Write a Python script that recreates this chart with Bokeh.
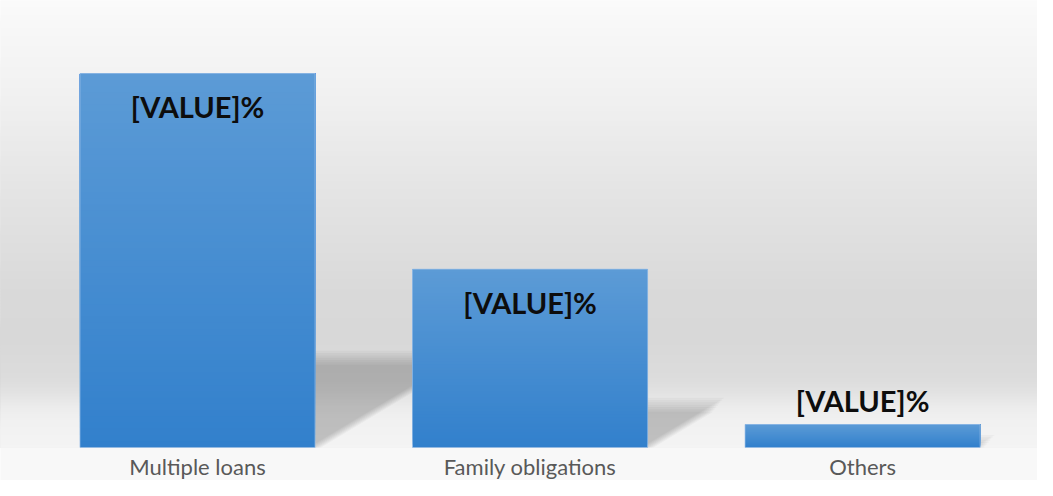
import numpy as np
from bokeh.plotting import figure
from bokeh.models import ColumnDataSource, Range1d
from bokeh.core.properties import value
from bokeh.embed import file_html
from bokeh.resources import INLINE

# ---------------- data ----------------
categories = ["Multiple loans", "Family obligations", "Others"]
values = [65, 31, 4]
value_labels = ["[VALUE]%", "[VALUE]%", "[VALUE]%"]

# ---------------- layout / style ----------------
W, H = 1037, 480
BASE_PX = 447                     # baseline position from top of the frame
X_START, X_END = -0.5925, 2.526
Y_END = 77.7
PX_PER_Y = BASE_PX / Y_END
Y_START = -(H - BASE_PX) / PX_PER_Y
BAR_W = 0.707
PX_PER_X = W / (X_END - X_START)

BAR_TOP = (92, 155, 214)
BAR_BOT = (50, 128, 204)


def hexc(c):
    return "#%02x%02x%02x" % tuple(int(round(v)) for v in c)


def lerp(c0, c1, t):
    return tuple(a + (b - a) * t for a, b in zip(c0, c1))


p = figure(width=W, height=H, output_backend="svg", toolbar_location=None,
           x_range=Range1d(X_START, X_END), y_range=Range1d(Y_START, Y_END),
           min_border=0)
p.background_fill_color = "#F8F8F8"
p.border_fill_color = "#F8F8F8"
p.outline_line_color = None
p.grid.visible = False
p.axis.visible = False

# ---------------- background gradient (overlapping bands, no seams) ----------------
stop_px = [0, 92, 192, 292, 342, 377, 392, 407, 422, 447]
stop_gray = [250, 241, 228, 217, 216, 220, 226, 236, 241, 244]
n_bg = 149
edges = np.linspace(0, BASE_PX, n_bg + 1)
bg_b, bg_t, bg_c = [], [], []
for i in range(n_bg):
    mid = (edges[i] + edges[i + 1]) / 2
    g = np.interp(mid, stop_px, stop_gray)
    bg_t.append(Y_END * (1 - edges[i] / BASE_PX))
    bg_b.append(0)
    bg_c.append(hexc((g, g, g)))
p.quad(left=X_START, right=X_END, bottom=bg_b, top=bg_t,
       fill_color=bg_c, line_color=None)

# ---------------- perspective shadows ----------------
SH_H = 0.24      # shadow depth relative to bar height
SH_SKEW = 0.40   # horizontal px shift per px of bar height
K = 7
for i, v in enumerate(values):
    h_px = v * PX_PER_Y
    dy = v * SH_H
    for k in range(K):
        t = (k / (K - 1)) - 0.5
        blur_y = (t * 14) / PX_PER_Y
        blur_x = (-t * 12) / PX_PER_X
        dx = h_px * SH_SKEW / PX_PER_X
        top = max(dy + blur_y, 0)
        xs = [i - BAR_W / 2, i + BAR_W / 2 + blur_x,
              i + BAR_W / 2 + dx * top / dy + blur_x, i - BAR_W / 2 + dx * top / dy]
        ys = [0, 0, top, top]
        p.patch(xs, ys, fill_color="black", fill_alpha=0.03, line_color=None)

# ---------------- gradient bars (overlapping bands, no seams) ----------------
N = 60
qb, qt, ql, qr, qc = [], [], [], [], []
for i, v in enumerate(values):
    for k in range(N):
        qb.append(v * k / N)
        qt.append(v)
        ql.append(i - BAR_W / 2)
        qr.append(i + BAR_W / 2)
        qc.append(hexc(lerp(BAR_BOT, BAR_TOP, (k + 0.5) / N)))
p.quad(left=ql, right=qr, bottom=qb, top=qt, fill_color=qc, line_color=None)
p.quad(left=[i - BAR_W / 2 for i in range(len(values))],
       right=[i + BAR_W / 2 for i in range(len(values))],
       bottom=0, top=values, fill_color=None, line_color="#9CC0E8",
       line_alpha=0.7, line_width=1)

# ---------------- value labels ----------------
offsets = [33 if v * PX_PER_Y > 80 else -24 for v in values]
lab_src = ColumnDataSource(dict(x=list(range(len(values))), y=values,
                                text=value_labels, yo=offsets))
p.text(x="x", y="y", text="text", y_offset="yo", source=lab_src,
       text_font=value("Lato"), text_font_style="bold", text_font_size="29px",
       text_color="#0D0D0D", text_align="center", text_baseline="middle")

# ---------------- category labels (under the baseline) ----------------
cat_src = ColumnDataSource(dict(x=list(range(len(categories))),
                                y=[0] * len(categories), text=categories))
p.text(x="x", y="y", text="text", y_offset=19, source=cat_src,
       text_font=value("Lato"), text_font_size="22px", text_color="#595959",
       text_align="center", text_baseline="middle")

open("out.html", "w").write(file_html(p, INLINE))
